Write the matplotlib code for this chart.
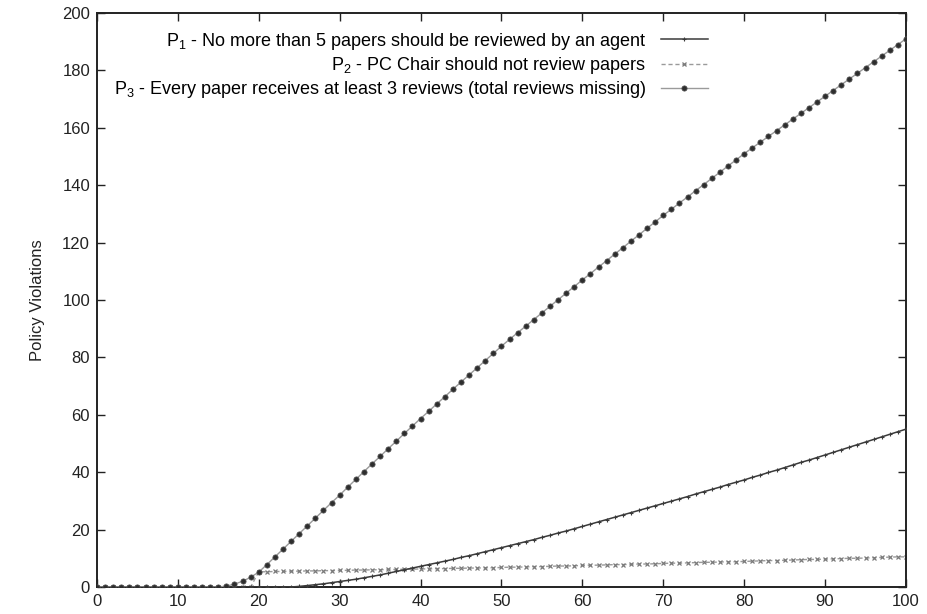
import matplotlib
matplotlib.use("Agg")
import matplotlib.pyplot as plt

plt.rcParams['font.family'] = ['Liberation Sans', 'DejaVu Sans']
plt.rcParams['mathtext.fontset'] = 'custom'
plt.rcParams['mathtext.rm'] = 'Liberation Sans'
plt.rcParams['mathtext.it'] = 'Liberation Sans'

# number of agents (x axis)
agents = list(range(0, 101))

# P1: papers over the per-agent limit
p1 = [0] * 25 + [
    0.2, 0.5, 0.8, 1.1, 1.5, 1.9, 2.3, 2.7, 3.2, 3.7, 4.2, 4.8, 5.4, 6.0, 6.6, 7.2,
    7.8, 8.4, 9.0, 9.6, 10.3, 10.9, 11.6, 12.3, 13.0, 13.7,
    14.4, 15.1, 15.8, 16.5, 17.3, 18.0, 18.8, 19.5, 20.3, 21.1,
    21.9, 22.7, 23.5, 24.3, 25.1, 25.9, 26.7, 27.5, 28.3, 29.1,
    29.9, 30.7, 31.5, 32.4, 33.2, 34.0, 34.8, 35.7, 36.5, 37.3,
    38.2, 39.0, 39.9, 40.7, 41.6, 42.5, 43.4, 44.2, 45.1, 46.0,
    46.9, 47.8, 48.7, 49.6, 50.5, 51.4, 52.3, 53.2, 54.1, 55.0,
]

# P2: reviews assigned to the PC Chair
p2 = [0] * 20 + [
    5.3, 5.3, 5.4, 5.4, 5.5, 5.5, 5.6, 5.6, 5.7, 5.7,
    5.8, 5.8, 5.9, 5.9, 6.0, 6.0, 6.1, 6.1, 6.2, 6.2,
    6.3, 6.3, 6.4, 6.4, 6.5, 6.5, 6.6, 6.6, 6.7, 6.7,
    6.8, 6.9, 6.9, 7.0, 7.1, 7.1, 7.2, 7.3, 7.3, 7.4,
    7.5, 7.6, 7.6, 7.7, 7.8, 7.8, 7.9, 8.0, 8.0, 8.1,
    8.2, 8.3, 8.3, 8.4, 8.5, 8.6, 8.6, 8.7, 8.8, 8.8,
    8.9, 9.0, 9.1, 9.2, 9.2, 9.3, 9.4, 9.5, 9.6, 9.6,
    9.7, 9.8, 9.9, 10.0, 10.0, 10.1, 10.2, 10.3, 10.4, 10.5,
    10.5,
]

# P3: total reviews missing
p3 = [0] * 16 + [
    0.3, 1.0, 2.0, 3.4, 5.2,
    7.8, 10.5, 13.2, 15.9, 18.6, 21.3, 24.0, 26.7, 29.4, 32.0,
    34.8, 37.5, 40.2, 42.9, 45.5, 48.2, 50.8, 53.5, 56.1, 58.7,
    61.2, 63.8, 66.3, 68.9, 71.4, 73.9, 76.4, 78.9, 81.4, 83.9,
    86.3, 88.6, 90.9, 93.2, 95.5, 97.8, 100.1, 102.4, 104.7, 107.0,
    109.2, 111.5, 113.7, 116.0, 118.2, 120.5, 122.7, 125.0, 127.2, 129.5,
    131.6, 133.8, 135.9, 138.1, 140.2, 142.4, 144.5, 146.7, 148.8, 151.0,
    153.0, 155.0, 157.0, 159.0, 161.0, 163.0, 165.0, 167.0, 169.0, 171.0,
    173.0, 175.0, 177.0, 179.0, 181.0, 183.0, 185.0, 187.0, 189.0, 191.0,
]

labels = [
    r'P$_1$ - No more than 5 papers should be reviewed by an agent',
    r'P$_2$ - PC Chair should not review papers',
    r'P$_3$ - Every paper receives at least 3 reviews (total reviews missing)',
]

x_ticks = list(range(0, 101, 10))
y_ticks = list(range(0, 201, 20))

fig = plt.figure(figsize=(9.27, 6.14), dpi=100)
ax = fig.add_axes([0.1046, 0.044, 0.8727, 0.9348])

ax.plot(agents, p1, color='#3a3a3a', lw=1.1, marker='+', ms=3.5, mew=0.8,
        mec='#3a3a3a', label=labels[0], zorder=3)
ax.plot(agents, p2, color='#9a9a9a', lw=1.0, ls=(0, (3, 2)), marker='x', ms=3.5,
        mew=0.9, mec='#7a7a7a', label=labels[1], zorder=2)
ax.plot(agents, p3, color='#9a9a9a', lw=1.0, marker='o', ms=3.8, mfc='#2e2e2e',
        mec='#555555', mew=0.5, label=labels[2], zorder=4)

ax.set_xlim(0, 100)
ax.set_ylim(0, 200)
ax.set_xticks(x_ticks)
ax.set_yticks(y_ticks)
ax.tick_params(direction='in', length=6, width=1.0, top=True, right=True,
               labelsize=12, colors='#222222', pad=5)
for s in ax.spines.values():
    s.set_linewidth(1.4)
    s.set_color('#222222')

ax.set_ylabel('Policy Violations', fontsize=12, color='#222222', labelpad=12)

leg = ax.legend(loc='upper right', bbox_to_anchor=(0.764, 0.982), frameon=False,
                markerfirst=False, fontsize=13, handlelength=2.6,
                handletextpad=0.8, labelspacing=0.18, borderaxespad=0.0)
for col in leg._legend_handle_box.get_children():
    col.align = 'right'

fig.savefig('out.png', dpi=100, facecolor='white')
